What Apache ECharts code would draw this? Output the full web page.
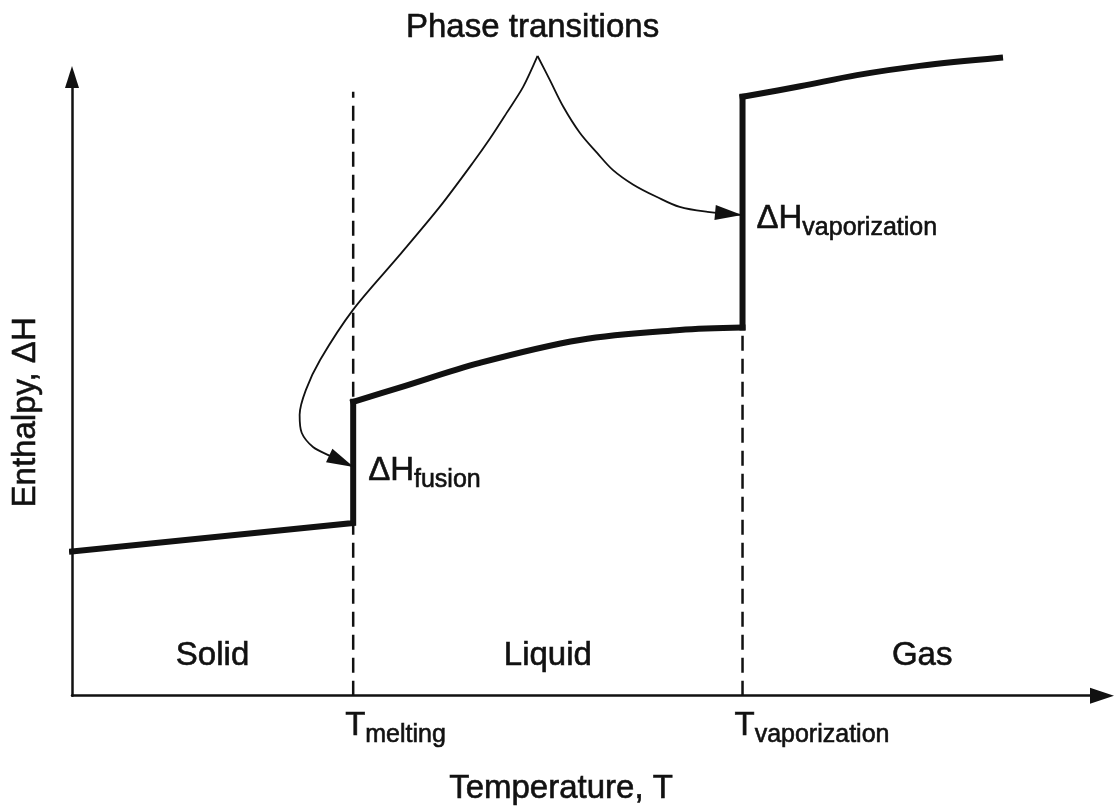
<!DOCTYPE html>
<html>
<head>
<meta charset="utf-8">
<title>Enthalpy vs temperature</title>
<script src="https://cdn.jsdelivr.net/npm/echarts@6/dist/echarts.min.js"></script>
<style>
  html, body { margin: 0; padding: 0; background: #fff; }
  #chart { width: 1116px; height: 811px; }
</style>
</head>
<body>
<div id="chart"></div>
<script>
// transition temperatures (axis runs 0..100, no units shown)
const T_MELT = 27.3
const T_VAP = 65.1

// enthalpy curve per phase, [temperature, enthalpy]
const solidPhase = [[0, 23.3], [27.3, 27.9]]
const liquidPhase = [[27.3, 47.5], [31.8, 49.8], [39.6, 53.8], [49.3, 57.5], [59.0, 59.1], [65.1, 59.5]]
const gasPhase = [[65.1, 96.8], [70.7, 98.5], [76.2, 100.3], [82.3, 101.8], [90.1, 103.1]]

// dashed guide at T_melting reaches up to here
const meltGuideTop = 97.6

// "Phase transitions" pointers, from the cusp down to the arrow tip
const fusionPointer = [
  [45.2, 103.4], [43.8, 98.4], [42.2, 94.2], [40.6, 90.1], [38.9, 86.1], [35.7, 79.0],
  [31.8, 71.2], [27.3, 62.4], [24.1, 54.3], [22.7, 49.4], [22.1, 45.4], [22.3, 42.5],
  [23.4, 40.2], [25.0, 38.8], [27.3, 37.0],
]
const vaporPointer = [
  [45.2, 103.4], [46.4, 99.5], [47.7, 95.2], [49.3, 91.0], [51.0, 87.7], [52.5, 85.0],
  [54.5, 82.6], [56.8, 80.6], [59.0, 79.0], [61.7, 78.2], [65.0, 77.7],
]

const phaseNames = ['Solid', 'Liquid', 'Gas']
const phaseBounds = [0, T_MELT, T_VAP, 100]

const FONT = "'Liberation Sans', Arial, Helvetica, sans-serif"
const INK = '#111'
// the printed lettering is a bit heavier than a regular face
const inkText = { fontFamily: FONT, color: INK, textBorderColor: INK, textBorderWidth: 0.6 }

const chart = echarts.init(document.getElementById('chart'))

const thick = { color: INK, width: 6, cap: 'square', join: 'miter' }
const noteRich = {
  big: Object.assign({ fontSize: 33, lineHeight: 44 }, inkText),
  sub: Object.assign({ fontSize: 25, lineHeight: 24, verticalAlign: 'bottom' }, inkText),
}

function curve(name, data, style, extra) {
  return Object.assign({
    name,
    type: 'line',
    data,
    symbol: 'none',
    silent: true,
    clip: false,
    lineStyle: style,
  }, extra || {})
}

// invisible anchor points that only carry a label
function labelSeries(name, data, label) {
  return {
    name,
    type: 'scatter',
    data,
    symbolSize: 0.1,
    itemStyle: { color: INK, opacity: 1 },
    silent: true,
    clip: false,
    z: 5,
    label: Object.assign({ show: true }, label),
  }
}

function noteLabel(prefix, pos) {
  return {
    position: pos,
    align: 'left',
    verticalAlign: 'middle',
    formatter: (p) => `{big|${prefix}}{sub|${p.name}}`,
    rich: noteRich,
  }
}

const liquidEnd = liquidPhase[liquidPhase.length - 1]

chart.setOption({
  animation: false,
  backgroundColor: '#fff',
  title: {
    text: 'Phase transitions',
    left: 406,
    top: 11,
    padding: 0,
    textStyle: Object.assign({ fontSize: 33, fontWeight: 'normal' }, inkText),
  },
  grid: { left: 72, right: 14, top: 77, bottom: 115 },
  xAxis: {
    type: 'value',
    min: 0,
    max: 100,
    name: 'Temperature, T',
    nameLocation: 'middle',
    nameGap: 77,
    nameTextStyle: Object.assign({ fontSize: 33, padding: [0, 52, 0, 0] }, inkText),
    axisLine: { symbol: ['none', 'triangle'], symbolSize: [16, 24], lineStyle: { color: INK, width: 2.5 } },
    axisTick: { show: false },
    axisLabel: { show: false },
    splitLine: { show: false },
  },
  yAxis: {
    type: 'value',
    min: 0,
    max: 100,
    name: 'Enthalpy, ΔH',
    nameLocation: 'middle',
    nameRotate: 90,
    nameGap: 30,
    nameTextStyle: Object.assign({ fontSize: 33, padding: [0, 52, 0, 0] }, inkText),
    axisLine: { show: true, symbol: ['none', 'triangle'], symbolSize: [14, 22], lineStyle: { color: INK, width: 2.5 } },
    axisTick: { show: false },
    axisLabel: { show: false },
    splitLine: { show: false },
  },
  series: [
    // dashed guides at the transition temperatures
    curve('melt guide', [[T_MELT, 0], [T_MELT, meltGuideTop]], { color: INK, width: 2.5, type: [15, 8] }, { z: 1 }),
    curve('vap guide', [[T_VAP, 0], [T_VAP, liquidEnd[1]]], { color: INK, width: 2.5, type: [15, 8] }, { z: 1 }),

    // enthalpy curve
    curve('solid', solidPhase.concat([[T_MELT, liquidPhase[0][1]]]), thick, { z: 3 }),
    curve('liquid', liquidPhase, thick, { smooth: 0.35, z: 3 }),
    curve('vaporization', [[T_VAP, liquidEnd[1]], [T_VAP, gasPhase[0][1]]], thick, { z: 3 }),
    curve('gas', gasPhase, thick, { smooth: 0.35, z: 3 }),

    // pointers
    curve('fusion pointer', fusionPointer, { color: INK, width: 1.8 }, { smooth: 0.3, z: 2 }),
    curve('vapor pointer', vaporPointer, { color: INK, width: 1.8 }, { smooth: 0.35, z: 2 }),
    {
      id: 'arrowHeads',
      type: 'scatter',
      symbol: 'triangle',
      symbolSize: [15, 27],
      itemStyle: { color: INK, opacity: 1 },
      silent: true,
      clip: false,
      z: 4,
      data: [],
    },

    // annotations
    labelSeries('ΔH notes', [
      { name: 'fusion', value: fusionPointer[fusionPointer.length - 1] },
      { name: 'vaporization', value: vaporPointer[vaporPointer.length - 1] },
    ], noteLabel('ΔH', [15, 4])),
    labelSeries('T notes', [
      { name: 'melting', value: [T_MELT, 0] },
      { name: 'vaporization', value: [T_VAP, 0] },
    ], noteLabel('T', [-8, 30])),
    labelSeries(
      'phases',
      phaseNames.map((n, i) => ({ name: n, value: [(phaseBounds[i] + phaseBounds[i + 1]) / 2, 6.5] })),
      Object.assign({
        position: [0, 0],
        align: 'center',
        verticalAlign: 'middle',
        formatter: '{b}',
        fontSize: 33,
      }, inkText),
    ),
  ],
})

// arrow heads: point along the last stretch of each pointer, tip on its last point
function arrowHead(points) {
  const n = points.length
  const tip = chart.convertToPixel({ gridIndex: 0 }, points[n - 1])
  const prev = chart.convertToPixel({ gridIndex: 0 }, points[n - 2])
  const dx = tip[0] - prev[0]
  const dy = tip[1] - prev[1]
  const len = Math.hypot(dx, dy)
  const half = 13
  const center = [tip[0] - (dx / len) * half, tip[1] - (dy / len) * half]
  return {
    value: chart.convertFromPixel({ gridIndex: 0 }, center),
    symbolRotate: -Math.atan2(dx, -dy) * 180 / Math.PI,
  }
}

chart.setOption({
  series: [{ id: 'arrowHeads', data: [arrowHead(fusionPointer), arrowHead(vaporPointer)] }],
})
</script>
</body>
</html>
